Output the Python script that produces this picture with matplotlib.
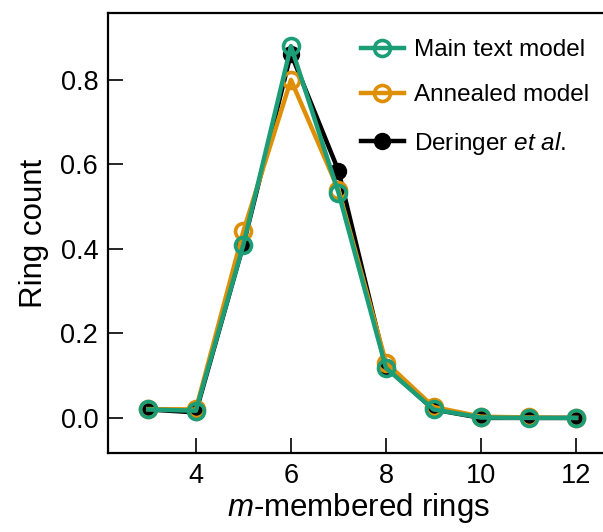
import matplotlib
matplotlib.use('Agg')
import matplotlib.pyplot as plt

plt.rcParams['font.family'] = 'Liberation Sans'
plt.rcParams['mathtext.fontset'] = 'custom'
plt.rcParams['mathtext.rm'] = 'Liberation Sans'
plt.rcParams['mathtext.it'] = 'Liberation Sans:italic'

rings = [3, 4, 5, 6, 7, 8, 9, 10, 11, 12]
main_model = [0.020, 0.017, 0.410, 0.880, 0.533, 0.118, 0.020, 0.001, 0.000, 0.000]
annealed = [0.021, 0.020, 0.442, 0.800, 0.540, 0.131, 0.026, 0.003, 0.001, 0.000]
deringer = [0.020, 0.013, 0.410, 0.862, 0.585, 0.120, 0.020, 0.000, 0.000, 0.000]

green = '#1b9e77'
orange = '#de8f05'

fig = plt.figure(figsize=(6.03, 5.32), dpi=100)
ax = fig.add_axes([0.179, 0.1485, 0.83, 0.827])

ax.plot(rings, deringer, color='black', lw=3.2, marker='o', ms=11.5,
        label='Deringer $\\it{et\\ al.}$', zorder=2)
ax.plot(rings, annealed, color=orange, lw=3.2, marker='o', ms=11.5,
        mfc='none', mew=2.6, label='Annealed model', zorder=3)
ax.plot(rings, main_model, color=green, lw=3.2, marker='o', ms=11.5,
        mfc='none', mew=2.6, label='Main text model', zorder=4)

ax.set_xlim(2.15, 12.68)
ax.set_ylim(-0.083, 0.958)
ax.set_xticks([4, 6, 8, 10, 12])
ax.set_yticks([0.0, 0.2, 0.4, 0.6, 0.8])
ax.tick_params(direction='in', length=11, width=1.2, labelsize=19.5, pad=7)
for s in ax.spines.values():
    s.set_linewidth(1.6)
ax.spines['right'].set_visible(False)

ax.set_xlabel('$m$-membered rings', fontsize=22.5, labelpad=2)
ax.set_ylabel('Ring count', fontsize=22.5, labelpad=8)

h, l = ax.get_legend_handles_labels()
ax.legend(h[::-1], l[::-1], loc='upper left', bbox_to_anchor=(0.4615, 0.99),
          frameon=False, fontsize=17.5, handlelength=1.77, labelspacing=0.95,
          handletextpad=0.4)

fig.savefig('out.png', dpi=100)
